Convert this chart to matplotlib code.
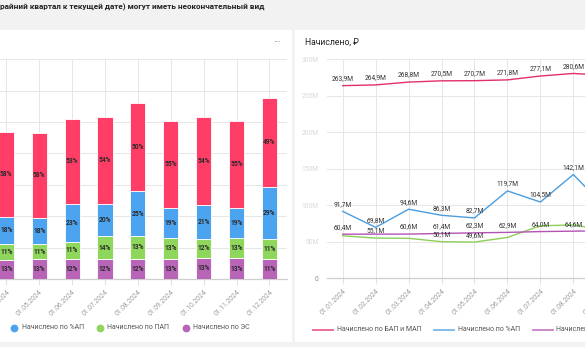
import matplotlib
matplotlib.use('Agg')
import matplotlib.pyplot as plt
import numpy as np
from matplotlib.patches import Rectangle
from matplotlib.lines import Line2D
from matplotlib.transforms import Affine2D

plt.rcParams['font.family'] = ['Roboto', 'DejaVu Sans']

# ---------------- data ----------------
months = ['01.01.2024', '01.02.2024', '01.03.2024', '01.04.2024', '01.05.2024', '01.06.2024',
          '01.07.2024', '01.08.2024', '01.09.2024', '01.10.2024', '01.11.2024', '01.12.2024']
bap_map = [263.9, 264.9, 268.8, 270.5, 270.7, 271.8, 277.1, 280.6, 278.0, 278.0, 279.0, 282.0]
pct_ap = [91.7, 69.8, 94.6, 86.3, 82.7, 119.7, 104.5, 142.1, 96.0, 108.0, 95.0, 167.0]
pap = [58.2, 55.1, 54.8, 50.1, 49.6, 56.0, 72.0, 73.0, 66.0, 62.0, 65.0, 63.0]
es = [60.4, 60.5, 60.6, 61.4, 62.3, 62.9, 64.0, 64.6, 65.0, 67.0, 66.0, 64.0]

names = ['Начислено по БАП и МАП', 'Начислено по %АП', 'Начислено по ПАП', 'Начислено по ЭС']
y_ticks = [0, 50, 100, 150, 200, 250, 300]
y_tick_labels = ['0', '50M', '100M', '150M', '200M', '250M', '300M']
title_text = 'райний квартал к текущей дате) могут иметь неокончательный вид'
right_title = 'Начислено, ₽'

# labels hidden by the dashboard's overlap logic
show_pap = [False, True, False, True, True, False, False, False, False, False, False, False]
show_es = [True, False, True, True, True, True, True, True, True, True, True, True]

# the screenshot is a crop: months outside it carry no visible labels
LEFT_FIRST_VISIBLE = 3
RIGHT_LAST_VISIBLE = 7
RIGHT_LAST_TICKLABEL = 8

C_BAP = '#ff3d67'
C_PCT = '#4ca3ef'
C_PAP = '#8fd65c'
C_ES = '#b865b8'
L_BAP = '#e0306a'
L_PCT = '#4a9de0'
L_PAP = '#8ccf55'
L_ES = '#b552b5'

W, H = 585, 347
fig = plt.figure(figsize=(W / 100, H / 100), dpi=100, facecolor='#f2f2f2')
PX = Affine2D().scale(1 / W, -1 / H).translate(0, 1) + fig.transFigure


def fbox(x0, y0, x1, y1):
    return [x0 / W, 1 - y1 / H, (x1 - x0) / W, (y1 - y0) / H]


# cards
fig.add_artist(Rectangle((-10, 30), 301.5, 312.5, transform=PX, facecolor='white',
                         edgecolor='none', zorder=-10))
fig.add_artist(Rectangle((295, 30), 300, 312, transform=PX, facecolor='white',
                         edgecolor='none', zorder=-10))

fig.text(0.5, 7.5, title_text, transform=PX, ha='left', va='center', fontsize=5.9,
         fontweight='bold', color='#222222')
fig.text(277, 42, '···', transform=PX, ha='center', va='center', fontsize=7, color='#777777')
fig.text(305, 42, right_title, transform=PX, ha='left', va='center', fontsize=6.2,
         color='#222222')

# ---------------- left: stacked bars ----------------
ax1 = fig.add_axes(fbox(-109.9, 59.3, 286.7, 279.0))
ax1.set_facecolor('none')
x = np.arange(len(months))
stack = [(es, C_ES), (pap, C_PAP), (pct_ap, C_PCT), (bap_map, C_BAP)]
totals = np.array(bap_map) + np.array(pct_ap) + np.array(pap) + np.array(es)
bottom = np.zeros(len(months))
for vals, col in stack:
    v = np.array(vals)
    ax1.bar(x, v, bottom=bottom, width=0.46, color=col, edgecolor='white', linewidth=0.6,
            zorder=3)
    for i in range(LEFT_FIRST_VISIBLE, len(months)):
        pct = int(round(v[i] / totals[i] * 100))
        ax1.text(x[i], bottom[i] + v[i] / 2, f'{pct}%', ha='center', va='center',
                 fontsize=4.8, color='#2a2a2a', fontweight='bold', zorder=4)
    bottom = bottom + v

ax1.set_xlim(-0.532, 11.523)
ax1.set_ylim(0, 700)
ax1.set_yticks(np.arange(0, 701, 100))
ax1.tick_params(axis='y', length=0, labelleft=False)
ax1.set_xticks(x)
ax1.set_xticklabels(months, rotation=45, ha='right', va='top', rotation_mode='anchor',
                    fontsize=4.9, color='#9a9a9a')
for i, lbl in enumerate(ax1.get_xticklabels()):
    if i < LEFT_FIRST_VISIBLE:
        lbl.set_visible(False)
ax1.tick_params(axis='x', length=4, color='#e3e3e3', pad=3)
ax1.grid(True, color='#e6e6e6', linewidth=0.7)
ax1.set_axisbelow(True)
for s in ['top', 'right', 'left']:
    ax1.spines[s].set_visible(False)
ax1.spines['bottom'].set_color('#cfcfcf')
ax1.spines['bottom'].set_linewidth(0.9)

# ---------------- right: lines ----------------
ax2 = fig.add_axes(fbox(326.7, 59.3, 326.7 + 394.4, 278.3))
ax2.set_facecolor('none')
ax2.plot(x, pap, color=L_PAP, lw=1.0, zorder=3)
ax2.plot(x, es, color=L_ES, lw=1.0, zorder=3)
ax2.plot(x, pct_ap, color=L_PCT, lw=1.0, zorder=3)
ax2.plot(x, bap_map, color=L_BAP, lw=1.0, zorder=3)


def fmt(v):
    return f'{v:.1f}'.replace('.', ',') + 'M'


def lab(i, v):
    ax2.annotate(fmt(v), (x[i], v), xytext=(0, 5), textcoords='offset points',
                 ha='center', va='center', fontsize=4.8, color='#333333', zorder=5)


for i in range(RIGHT_LAST_VISIBLE + 1):
    lab(i, bap_map[i])
    lab(i, pct_ap[i])
    if show_es[i]:
        lab(i, es[i])
    if show_pap[i]:
        lab(i, pap[i])

ax2.set_xlim(-0.486, 11.486)
ax2.set_ylim(0, 300)
ax2.set_yticks(y_ticks)
ax2.set_yticklabels(y_tick_labels, fontsize=4.8)
for lbl in ax2.get_yticklabels():
    lbl.set_color('#d8d8d8')
ax2.get_yticklabels()[0].set_color('#888888')
ax2.tick_params(axis='y', length=0, pad=6)
ax2.set_xticks(x)
ax2.set_xticklabels(months, rotation=45, ha='right', va='top', rotation_mode='anchor',
                    fontsize=4.9, color='#9a9a9a')
for i, lbl in enumerate(ax2.get_xticklabels()):
    if i > RIGHT_LAST_TICKLABEL:
        lbl.set_visible(False)
ax2.tick_params(axis='x', length=4, color='#e3e3e3', pad=3)
ax2.grid(True, color='#e6e6e6', linewidth=0.7)
ax2.set_axisbelow(True)
for s in ['top', 'right', 'left']:
    ax2.spines[s].set_visible(False)
ax2.spines['bottom'].set_color('#cfcfcf')
ax2.spines['bottom'].set_linewidth(0.9)

# ---------------- legends ----------------
# left (circles); the first item (БАП и МАП) lies outside the crop
left_items = [(names[1], C_PCT, 14), (names[2], C_PAP, 99.5), (names[3], C_ES, 185.7)]
for name, col, cx in left_items:
    fig.add_artist(Line2D([cx], [327.7], transform=PX, marker='o', markersize=4.6,
                          color=col, linestyle='none'))
    fig.text(cx + 7.5, 327.7, name, transform=PX, ha='left', va='center', fontsize=5,
             color='#555555')

right_items = [(names[0], L_BAP, 313.3), (names[1], L_PCT, 434), (names[3], L_ES, 532.7)]
for name, col, lx in right_items:
    fig.add_artist(Line2D([lx, lx + 20], [330, 330], transform=PX, color=col, lw=1.3,
                          alpha=0.75))
    fig.text(lx + 23.5, 330, name, transform=PX, ha='left', va='center', fontsize=5,
             color='#555555')

fig.savefig('out.png', dpi=100, facecolor=fig.get_facecolor())
